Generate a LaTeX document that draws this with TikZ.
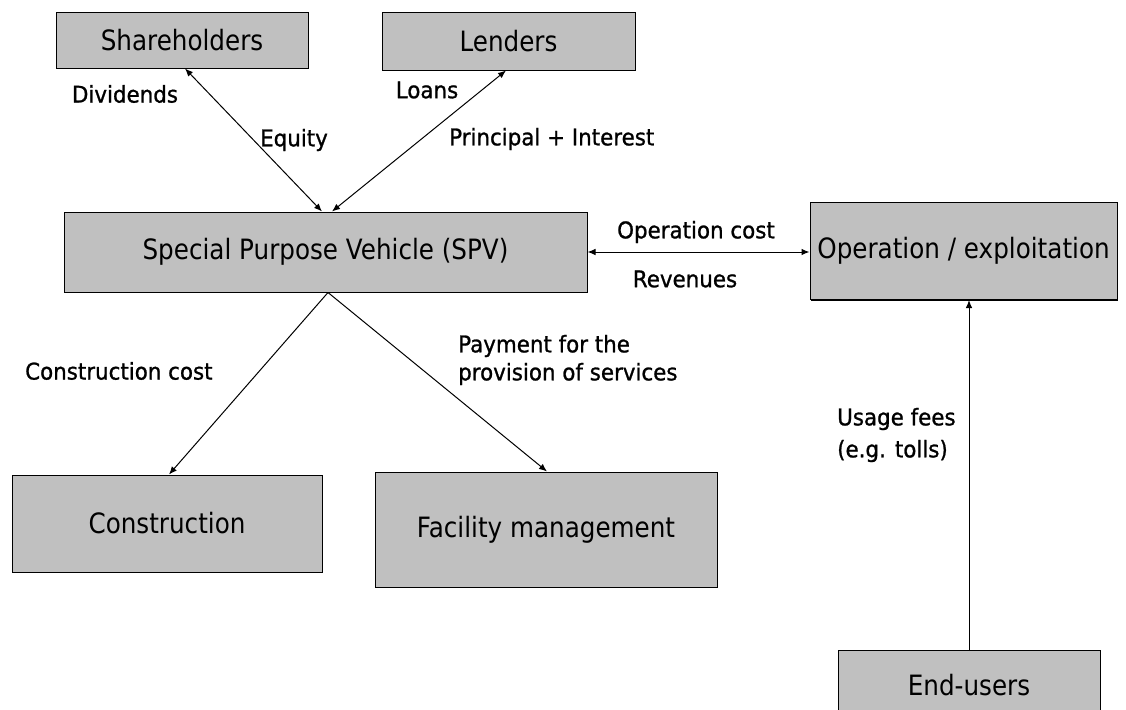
\documentclass[tikz,border=0pt]{standalone}
\usepackage{fontspec}
\setmainfont{DejaVu Sans}
\newfontfamily\boxfont{DejaVu Sans}[FakeStretch=0.88]
\newfontfamily\lblfont{DejaVu Sans}[FakeStretch=0.93, FakeBold=1]
\usetikzlibrary{arrows.meta,shadows}
\definecolor{boxgray}{HTML}{C0C0C0}
\tikzset{
  box/.style={draw=black, line width=1pt, fill=boxgray, inner sep=0pt, align=center,
    font=\boxfont\fontsize{28}{32}\selectfont,
    drop shadow={shadow xshift=1.2pt, shadow yshift=-1.2pt, opacity=1, fill=black}},
  lbl/.style={inner sep=0pt, font=\lblfont\fontsize{23}{28}\selectfont},
  tipstyle/.style={},
  conn/.style={line width=1pt, -{Latex[length=8pt,width=6.5pt]}},
  bconn/.style={line width=1pt, {Latex[length=8pt,width=6.5pt]}-{Latex[length=8pt,width=6.5pt]}},
}
\begin{document}
\begin{tikzpicture}[x=1pt,y=-1pt]
\useasboundingbox (0,0) rectangle (1126,709);
% boxes
\node[box, minimum width=252, minimum height=55] (sh) at (182,40.5) {Shareholders};
\node[box, minimum width=253, minimum height=57] (le) at (508.5,41.5) {Lenders};
\node[box, minimum width=523, minimum height=80] (spv) at (325.5,252) {Special Purpose Vehicle (SPV)};
\node[box, minimum width=307, minimum height=97] (op) at (963.5,251) {Operation / exploitation};
\node[box, minimum width=310, minimum height=97] (con) at (167,523.5) {Construction};
\node[box, minimum width=342, minimum height=115] (fm) at (546,529.5) {Facility management};
\node[box, minimum width=262, minimum height=70] (eu) at (969,685) {End-users};
% connector end points
\coordinate (shb) at (185,0);
\coordinate (leb) at (506,0);
\coordinate (spvt1) at (322,0);
\coordinate (spvt2) at (332,0);
\coordinate (apex) at (328,0);
\coordinate (cont) at (169,0);
\coordinate (fmt) at (547,0);
\coordinate (vert) at (969,0);
\draw[bconn] (sh.south -| shb) -- (spvt1 |- spv.north);
\draw[bconn] (le.south -| leb) -- (spvt2 |- spv.north);
\draw[bconn] (spv.east) -- (spv.east -| op.west);
\draw[conn] (apex |- spv.south) -- (cont |- con.north);
\draw[conn] (apex |- spv.south) -- (fmt |- fm.north);
\draw[conn] (vert |- eu.north) -- (vert |- op.south);
% labels
\node[lbl] (l1) at (125,94) {Dividends};
\node[lbl, anchor=west] (l2) at (260,140) {Equity};
\node[lbl] (l3) at (427,90) {Loans};
\node[lbl, anchor=west] (l4) at (449,139) {Principal + Interest};
\node[lbl] (l5) at (696,232) {Operation cost};
\node[lbl] (l6) at (685,279) {Revenues};
\node[lbl, anchor=west] (l7) at (25,371) {Construction cost};
\node[lbl, anchor=west, align=left, font=\lblfont\fontsize{23}{28}\selectfont] (l8) at (458,360) {Payment for the\\provision of services};
\node[lbl, anchor=west, align=left, font=\lblfont\fontsize{23}{32}\selectfont] (l9) at (837,435) {Usage fees\\(e.g. tolls)};
\end{tikzpicture}
\end{document}
